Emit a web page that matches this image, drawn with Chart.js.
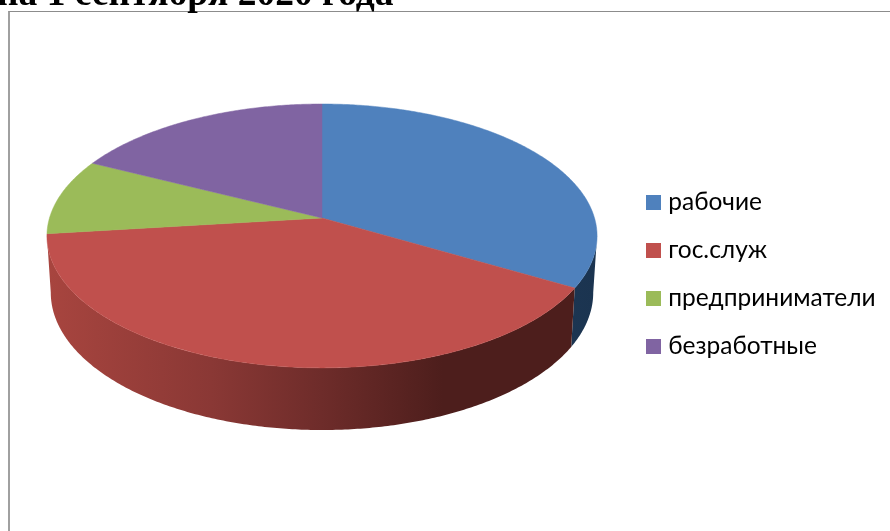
<!DOCTYPE html>
<html>
<head>
<meta charset="utf-8">
<script src="https://cdn.jsdelivr.net/npm/chart.js@4/dist/chart.umd.min.js"></script>
<style>
    html, body { margin: 0; padding: 0; width: 890px; height: 531px; overflow: hidden; background: #fff; }
    #heading {
        position: absolute; left: -3px; top: -29px; white-space: nowrap;
        font: bold 37.5px "Liberation Serif", serif; color: #000; z-index: 2;
    }
    #frame {
        position: absolute; left: 8px; top: 11px; right: 0; bottom: 0;
        border-left: 2px solid #a0a0a0; border-top: 1px solid #8c8c8c;
    }
    #pie { position: absolute; left: 0; top: 0; }
</style>
</head>
<body>
<div id="frame"></div>
<div id="heading">на 1 сентября 2020 года</div>
<canvas id="pie" width="890" height="531"></canvas>
<script>
// --- Data ---
const categories = ["рабочие", "гос.служ", "предприниматели", "безработные"];
const shares = [33.4, 39.7, 9.3, 17.6];
const sliceColors = ["#4f81bd", "#c0504d", "#9bbb59", "#8064a2"];

// --- Tilted disc: unit circle -> screen, with a bit of perspective ---
const topDisc = { cx: 322, cy: 218, k: 272.5, q: 129.5 };
const bottomDisc = { cx: 322, cy: 274, k: 268.7, q: 134.8 };
const tilt = -0.136;
const wallEdge = 0.136; // angle where the rim turns away from the viewer

function project(disc, a) {
    const w = 1 + tilt * Math.sin(a);
    return { x: disc.cx + disc.k * Math.cos(a) / w, y: disc.cy + disc.q * Math.sin(a) / w };
}

function traceRim(ctx, disc, from, to) {
    const steps = Math.max(2, Math.ceil(Math.abs(to - from) / 0.01));
    for (let i = 0; i <= steps; i++) {
        const p = project(disc, from + (to - from) * i / steps);
        ctx.lineTo(p.x, p.y);
    }
}

function wallFill(ctx, index) {
    const g = ctx.createLinearGradient(46, 0, 597, 0);
    if (index === 0) {
        g.addColorStop(0, "#2a4a6e");
        g.addColorStop(1, "#1b3450");
    } else {
        g.addColorStop(0, "#a8453f");
        g.addColorStop(0.3, "#8a3835");
        g.addColorStop(0.5, "#6e2c2a");
        g.addColorStop(0.72, "#4d1e1c");
        g.addColorStop(1, "#4d1e1c");
    }
    return g;
}

const tiltedPie = {
    id: "tiltedPie",
    afterLayout(chart) {
        // legend sits on the right with its own column position
        chart.legend.left = 651 - chart.options.plugins.legend.labels.padding;
        chart.legend.top = 166.75;
    },
    beforeDatasetDraw(chart, args) {
        const ctx = chart.ctx;
        const arcs = args.meta.data;
        ctx.save();

        // side wall, only the part facing the viewer
        [0, 1].forEach(i => {
            const from = Math.max(arcs[i].startAngle, wallEdge);
            const to = Math.min(arcs[i].endAngle, Math.PI - wallEdge);
            if (to <= from) return;
            ctx.beginPath();
            traceRim(ctx, topDisc, from, to);
            traceRim(ctx, bottomDisc, to, from);
            ctx.closePath();
            ctx.fillStyle = wallFill(ctx, i);
            ctx.fill();
        });

        // top face
        arcs.forEach((arc, i) => {
            ctx.beginPath();
            ctx.moveTo(topDisc.cx, topDisc.cy);
            traceRim(ctx, topDisc, arc.startAngle, arc.endAngle);
            ctx.closePath();
            ctx.fillStyle = arc.options.backgroundColor;
            ctx.strokeStyle = arc.options.backgroundColor;
            ctx.lineWidth = 0.5;
            ctx.fill();
            ctx.stroke();
        });

        ctx.restore();
        return false;
    }
};

new Chart(document.getElementById("pie"), {
    type: "pie",
    data: {
        labels: categories,
        datasets: [{ data: shares, backgroundColor: sliceColors, borderWidth: 0 }]
    },
    options: {
        responsive: false,
        animation: false,
        plugins: {
            tooltip: { enabled: false },
            legend: {
                position: "right",
                align: "start",
                labels: {
                    usePointStyle: true,
                    pointStyle: "rect",
                    boxWidth: 5,
                    boxHeight: 15,
                    padding: 23.5,
                    color: "#000",
                    font: { family: "Lato, 'Open Sans', sans-serif", size: 24.5 }
                }
            }
        }
    },
    plugins: [tiltedPie]
});
</script>
</body>
</html>
